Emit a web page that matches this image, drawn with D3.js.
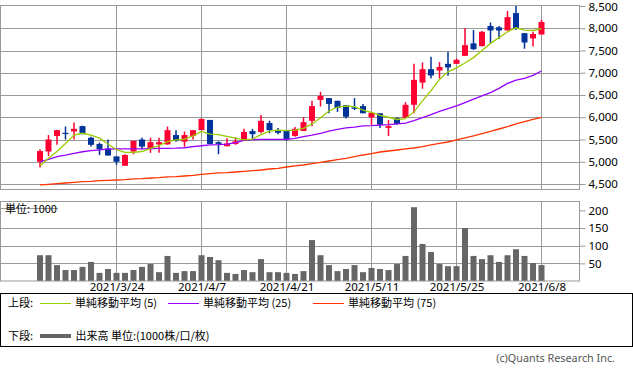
<!DOCTYPE html>
<html><head><meta charset="utf-8">
<script src="https://cdn.jsdelivr.net/npm/d3@7"></script>
<style>
body{margin:0;background:#fff;}
svg{display:block;font-family:"Noto Sans","Noto Sans CJK JP",sans-serif;}
</style></head><body>
<svg id="c" width="633" height="371"></svg>
<script>
const dates = ["2021/3/11","2021/3/12","2021/3/15","2021/3/16","2021/3/17","2021/3/18","2021/3/19","2021/3/22","2021/3/23","2021/3/24","2021/3/25","2021/3/26","2021/3/29","2021/3/30","2021/3/31",
"2021/4/1","2021/4/2","2021/4/5","2021/4/6","2021/4/7","2021/4/8","2021/4/9","2021/4/12","2021/4/13","2021/4/14","2021/4/15","2021/4/16","2021/4/19","2021/4/20","2021/4/21","2021/4/22","2021/4/23","2021/4/26","2021/4/27","2021/4/28","2021/4/30",
"2021/5/6","2021/5/7","2021/5/10","2021/5/11","2021/5/12","2021/5/13","2021/5/14","2021/5/17","2021/5/18","2021/5/19","2021/5/20","2021/5/21","2021/5/24","2021/5/25","2021/5/26","2021/5/27","2021/5/28","2021/5/31",
"2021/6/1","2021/6/2","2021/6/3","2021/6/4","2021/6/7","2021/6/8"];
const open  = [5000,5230,5580,5650,5680,5800,5540,5400,5300,5120,4910,5230,5500,5300,5390,5390,5600,5450,5580,5710,5940,5440,5350,5400,5470,5690,5670,5870,5690,5690,5580,5690,5920,6390,6430,6370,6270,6220,6250,6000,6090,5760,5980,5990,6280,6780,7080,7050,7200,7200,7380,7660,7600,8050,8020,7950,8340,7890,7770,7860];
const high  = [5280,5600,5720,5790,5880,5810,5560,5430,5500,5120,5170,5470,5540,5540,5540,5790,5710,5680,5710,5980,5940,5460,5530,5550,5740,5740,6050,5920,5760,5690,5780,6000,6370,6570,6430,6370,6270,6430,6300,6100,6090,5940,6000,6340,7200,7230,7360,7240,7470,7320,8000,7960,7940,8130,8050,8390,8500,7890,7920,8190];
const low   = [4870,5130,5380,5500,5500,5620,5340,5150,5140,4930,4910,5170,5280,5200,5200,5380,5450,5340,5500,5710,5400,5170,5340,5380,5470,5500,5640,5640,5620,5470,5560,5690,5800,6240,6090,6120,5970,6160,6090,5830,5760,5580,5830,5990,6090,6640,6870,6870,6930,7200,7380,7510,7590,7660,7760,7950,7960,7540,7590,7860];
const close = [5240,5500,5710,5630,5740,5620,5380,5280,5140,5000,5150,5470,5340,5440,5440,5710,5470,5600,5710,5960,5400,5400,5410,5460,5670,5620,5920,5710,5650,5500,5740,5890,6250,6480,6300,6210,6010,6190,6090,6100,5830,5800,5850,6280,6840,7080,6940,7130,7120,7290,7620,7530,7920,7950,7950,8250,8000,7680,7870,8140];
const ma5   = [4910,5080,5230,5410,5600,5640,5600,5530,5400,5270,5210,5210,5230,5300,5360,5450,5490,5510,5580,5680,5620,5610,5570,5530,5490,5510,5610,5690,5710,5700,5710,5750,5850,5990,6140,6230,6250,6240,6160,6110,6040,6000,5950,5970,6120,6370,6600,6850,7020,7110,7220,7340,7500,7660,7790,7920,8010,7960,7950,7990];
const ma25  = [5000,5055,5115,5150,5190,5225,5250,5265,5285,5290,5290,5290,5290,5295,5300,5300,5305,5315,5340,5360,5380,5385,5395,5430,5480,5495,5505,5505,5505,5505,5525,5565,5600,5640,5690,5730,5760,5780,5805,5810,5825,5835,5850,5870,5925,5990,6060,6130,6195,6255,6330,6405,6480,6555,6650,6760,6835,6875,6940,7040];
const ma75  = [4480,4493,4508,4523,4538,4553,4560,4575,4583,4590,4598,4613,4620,4635,4643,4658,4665,4680,4695,4718,4733,4748,4755,4770,4785,4800,4815,4837,4852,4882,4905,4927,4957,4987,5017,5047,5077,5115,5152,5182,5219,5242,5264,5287,5309,5339,5377,5414,5444,5489,5534,5579,5631,5684,5736,5789,5849,5901,5953,5998];
const volume= [73,73,45,31,31,40,54,23,34,23,23,31,40,48,25,71,23,28,28,73,68,59,23,20,31,25,62,25,25,23,20,28,116,73,45,28,34,45,25,37,34,31,48,71,209,105,82,48,42,42,150,71,62,73,54,73,90,71,51,45];
const xLabels = ["2021/3/24","2021/4/7","2021/4/21","2021/5/11","2021/5/25","2021/6/8"];
const priceTicks = [4500,5000,5500,6000,6500,7000,7500,8000,8500];
const volTicks = [50,100,150,200];
const legendTop = [{t:"単純移動平均 (5)",c:"#99cc00"},{t:"単純移動平均 (25)",c:"#9900ff"},{t:"単純移動平均 (75)",c:"#ff3300"}];

const UP="#ff0033", DOWN="#003399", GRID="#999";
const svg = d3.select("#c");
const x = d3.scalePoint().domain(dates).range([40, 541.5]);
const y = d3.scaleLinear().domain([4500,8500]).range([184,6]);
const yv = d3.scaleLinear().domain([0,200]).range([281,210.4]);

// ---------- top panel ----------
const gTop = svg.append("g");
gTop.selectAll("line.hg").data(priceTicks.slice(0,-1)).join("line")
  .attr("x1",0.5).attr("x2",579.5).attr("y1",d=>Math.round(y(d))+0.5).attr("y2",d=>Math.round(y(d))+0.5)
  .attr("stroke",GRID);
gTop.selectAll("line.vg").data(xLabels).join("line")
  .attr("x1",d=>Math.floor(x(d))+0.5).attr("x2",d=>Math.floor(x(d))+0.5).attr("y1",5.5).attr("y2",189.5)
  .attr("stroke",GRID);
gTop.append("rect").attr("x",0.5).attr("y",5.5).attr("width",579).attr("height",184)
  .attr("fill","none").attr("stroke",GRID);

const yAxis = d3.axisRight(y).tickValues(priceTicks).tickSize(6).tickPadding(3).tickFormat(d3.format(","));
const ya = svg.append("g").attr("transform","translate(579.5,0)").call(yAxis);
ya.select(".domain").remove();
ya.selectAll("line").attr("stroke",GRID);
ya.selectAll("text").attr("font-size",11.5).attr("fill","#000").attr("font-family","Noto Sans")
  .attr("dy",d=>d===8500?"0.4em":"0.32em");

// candles
const cg = svg.append("g");
dates.forEach((d,i)=>{
  const col = close[i] >= open[i] ? UP : DOWN;
  const cx = x(d);
  cg.append("line").attr("x1",cx).attr("x2",cx).attr("y1",y(high[i])).attr("y2",y(low[i]))
    .attr("stroke",col).attr("stroke-width",1.5);
  const t = y(Math.max(open[i],close[i])), b = y(Math.min(open[i],close[i]));
  cg.append("rect").attr("x",cx-3).attr("y",t).attr("width",6).attr("height",Math.max(1.2,b-t)).attr("fill",col);
});

// moving averages
const line = arr => d3.line().x((d,i)=>x(dates[i])).y(d=>y(d))(arr);
[[ma75,"#ff3300"],[ma25,"#9900ff"],[ma5,"#99cc00"]].forEach(([a,c])=>{
  svg.append("path").attr("d",line(a)).attr("fill","none").attr("stroke",c).attr("stroke-width",1.3);
});

// ---------- volume panel ----------
const gVol = svg.append("g");
gVol.selectAll("line.hg").data(volTicks.slice(0,-1)).join("line")
  .attr("x1",0.5).attr("x2",579.5).attr("y1",d=>Math.round(yv(d))+0.5).attr("y2",d=>Math.round(yv(d))+0.5)
  .attr("stroke",GRID);
gVol.selectAll("line.vg").data(xLabels).join("line")
  .attr("x1",d=>Math.floor(x(d))+0.5).attr("x2",d=>Math.floor(x(d))+0.5).attr("y1",201.5).attr("y2",281)
  .attr("stroke",GRID);
gVol.selectAll("rect.bar").data(volume).join("rect")
  .attr("x",(d,i)=>x(dates[i])-3).attr("y",d=>yv(d)).attr("width",6).attr("height",d=>281-yv(d))
  .attr("fill","#666");
gVol.append("rect").attr("x",0.5).attr("y",201.5).attr("width",579).attr("height",79.5)
  .attr("fill","none").attr("stroke",GRID);
gVol.append("line").attr("x1",0.5).attr("x2",58).attr("y1",208.5).attr("y2",208.5).attr("stroke",GRID);
gVol.append("text").attr("x",5).attr("y",212.5).attr("font-size",11).attr("fill","#000")
  .attr("font-family","Noto Sans CJK JP").text("単位: 1000");

const vAxis = d3.axisRight(yv).tickValues(volTicks).tickSize(6).tickPadding(3);
const va = svg.append("g").attr("transform","translate(579.5,0)").call(vAxis);
va.select(".domain").remove();
va.selectAll("line").attr("stroke",GRID);
va.selectAll("text").attr("font-size",11.5).attr("fill","#000").attr("font-family","Noto Sans");

// x axis labels
const xAxis = d3.axisBottom(x).tickValues(xLabels).tickSize(0).tickPadding(0);
const xa = svg.append("g").attr("transform","translate(0,281)").call(xAxis);
xa.select(".domain").remove();
xa.selectAll("text").attr("font-size",11.5).attr("fill","#000").attr("dy","0.85em").attr("y",0)
  .attr("font-family","Noto Sans");

// ---------- legend ----------
const lg = svg.append("g").attr("font-family","Noto Sans CJK JP").attr("font-size",11).attr("fill","#000");
lg.append("rect").attr("x",0.5).attr("y",293.5).attr("width",632).attr("height",53).attr("fill","none").attr("stroke","#000");
lg.append("text").attr("x",8).attr("y",307).text("上段:");
const lx = [40,168,313];
legendTop.forEach((l,i)=>{
  lg.append("line").attr("x1",lx[i]).attr("x2",lx[i]+31).attr("y1",303.5).attr("y2",303.5).attr("stroke",l.c).attr("stroke-width",1);
  lg.append("text").attr("x",lx[i]+35).attr("y",307).text(l.t);
});
lg.append("text").attr("x",8).attr("y",340).text("下段:");
lg.append("line").attr("x1",40).attr("x2",71).attr("y1",336).attr("y2",336).attr("stroke","#666").attr("stroke-width",4);
lg.append("text").attr("x",75.5).attr("y",340).text("出来高 単位:(1000株/口/枚)");

svg.append("text").attr("x",615).attr("y",362).attr("text-anchor","end").attr("font-size",10.8)
  .attr("fill","#555").attr("font-family","Noto Sans").text("(c)Quants Research Inc.");
</script>
</body></html>
